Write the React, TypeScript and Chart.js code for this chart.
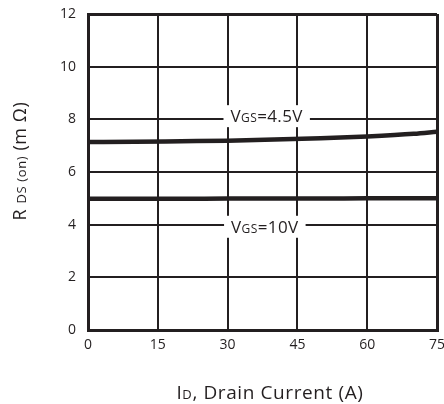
import { useEffect, useRef } from "react";
import { Chart, registerables } from "chart.js";

Chart.register(...registerables);

// ---- data ----
const currents = [0, 10, 20, 30, 40, 50, 60, 70, 75];
const rdsVgs45 = [7.14, 7.15, 7.17, 7.19, 7.23, 7.28, 7.35, 7.45, 7.53];
const rdsVgs10 = [4.98, 4.98, 4.98, 4.99, 4.99, 4.99, 5.0, 5.0, 5.0];
const xTicks = [0, 15, 30, 45, 60, 75];
const yTicks = [0, 2, 4, 6, 8, 10, 12];
const seriesNames = ["VGS=4.5V", "VGS=10V"];
// label runs: [main, subscript, rest]
const curveLabelRuns = [
  ["V", "GS", "=4.5V"],
  ["V", "GS", "=10V"],
];
// label anchors in data units (x = current, y = resistance)
const curveLabelX = [38.4, 38.0];
const curveLabelY = [8.12, 3.92];
const xTitleRuns = [["I", 19], ["D", 13], [", Drain Current (A)", 19]] as [string, number][];
const yTitleRuns = [["R ", 18], ["DS (on)", 13], [" (m Ω)", 18]] as [string, number][];

const INK = "#231f20";
const FONT = "'Open Sans', 'Noto Sans', sans-serif";

function setSpacing(ctx: any, px: number) {
  if ("letterSpacing" in ctx) ctx.letterSpacing = `${px}px`;
}

function measureRuns(ctx: CanvasRenderingContext2D, runs: [string, number][]) {
  return runs.map(([t, s]) => {
    ctx.font = `${s}px ${FONT}`;
    return ctx.measureText(t).width;
  });
}

function drawRuns(
  ctx: CanvasRenderingContext2D,
  runs: [string, number][],
  cx: number,
  cy: number,
  capSize: number
) {
  const widths = measureRuns(ctx, runs);
  const total = widths.reduce((a, b) => a + b, 0);
  let x = cx - total / 2;
  const baseline = cy + (capSize * 0.714) / 2;
  ctx.textAlign = "left";
  ctx.textBaseline = "alphabetic";
  runs.forEach(([t, s], i) => {
    ctx.font = `${s}px ${FONT}`;
    ctx.fillText(t, x, baseline);
    x += widths[i];
  });
  return total;
}

const annotationPlugin = {
  id: "annotations",
  afterDatasetsDraw(chart: any) {
    const ctx: CanvasRenderingContext2D = chart.ctx;
    const xs = chart.scales.x;
    const ys = chart.scales.y;
    ctx.save();
    setSpacing(ctx, 0.4);
    curveLabelRuns.forEach((r, i) => {
      const runs: [string, number][] = [
        [r[0], 17],
        [r[1], 12],
        [r[2], 17],
      ];
      const cx = xs.getPixelForValue(curveLabelX[i]);
      const cy = ys.getPixelForValue(curveLabelY[i]);
      const total = measureRuns(ctx, runs).reduce((a, b) => a + b, 0);
      ctx.fillStyle = "#ffffff";
      ctx.fillRect(cx - total / 2 - 7, cy - 11, total + 14, 22);
      ctx.fillStyle = INK;
      drawRuns(ctx, runs, cx, cy, 17);
    });
    ctx.restore();
  },
  afterDraw(chart: any) {
    const ctx: CanvasRenderingContext2D = chart.ctx;
    ctx.save();
    ctx.fillStyle = INK;
    setSpacing(ctx, 0.6);
    drawRuns(ctx, xTitleRuns, 270, 392, 19);
    ctx.translate(20, 161);
    ctx.rotate(-Math.PI / 2);
    drawRuns(ctx, yTitleRuns, 0, 0, 18);
    ctx.restore();
  },
};

export default function App() {
  const ref = useRef<HTMLCanvasElement | null>(null);
  useEffect(() => {
    if (!ref.current) return;
    const edgeWidth = (ctx: any) =>
      ctx.index === 0 || ctx.index === ctx.scale.ticks.length - 1 ? 3 : 2;
    const chart = new Chart(ref.current, {
      type: "line",
      data: {
        datasets: [
          {
            label: seriesNames[0],
            data: currents.map((c, i) => ({ x: c, y: rdsVgs45[i] })),
            borderColor: INK,
            borderWidth: 4.5,
            pointRadius: 0,
            cubicInterpolationMode: "monotone",
            fill: false,
          },
          {
            label: seriesNames[1],
            data: currents.map((c, i) => ({ x: c, y: rdsVgs10[i] })),
            borderColor: INK,
            borderWidth: 4.5,
            pointRadius: 0,
            cubicInterpolationMode: "monotone",
            fill: false,
          },
        ],
      },
      options: {
        animation: false,
        responsive: false,
        events: [],
        layout: { padding: { top: 14, right: 7, left: 0, bottom: 0 } },
        plugins: {
          legend: { display: false },
          tooltip: { enabled: false },
          title: { display: false },
        },
        scales: {
          x: {
            type: "linear",
            min: 0,
            max: 75,
            afterBuildTicks: (s: any) => {
              s.ticks = xTicks.map((v) => ({ value: v }));
            },
            afterFit: (s: any) => {
              s.height = 74;
              s.paddingLeft = 0;
              s.paddingRight = 0;
            },
            grid: { color: INK, lineWidth: edgeWidth, drawTicks: false },
            border: { display: true, color: INK, width: 3 },
            ticks: {
              padding: 7,
              color: INK,
              font: { family: FONT, size: 14 },
              maxRotation: 0,
              autoSkip: false,
            },
          },
          y: {
            type: "linear",
            min: 0,
            max: 12,
            afterBuildTicks: (s: any) => {
              s.ticks = yTicks.map((v) => ({ value: v }));
            },
            afterFit: (s: any) => {
              s.width = 88;
              s.paddingTop = 0;
              s.paddingBottom = 0;
            },
            grid: { color: INK, lineWidth: edgeWidth, drawTicks: false },
            border: { display: true, color: INK, width: 3 },
            ticks: {
              padding: 12,
              color: INK,
              font: { family: FONT, size: 14 },
              autoSkip: false,
            },
          },
        },
      },
      plugins: [annotationPlugin],
    } as any);
    return () => chart.destroy();
  }, []);
  return (
    <div style={{ position: "absolute", left: 0, top: 0, width: 444, height: 404, background: "#fff" }}>
      <canvas ref={ref} width={444} height={404} />
    </div>
  );
}
